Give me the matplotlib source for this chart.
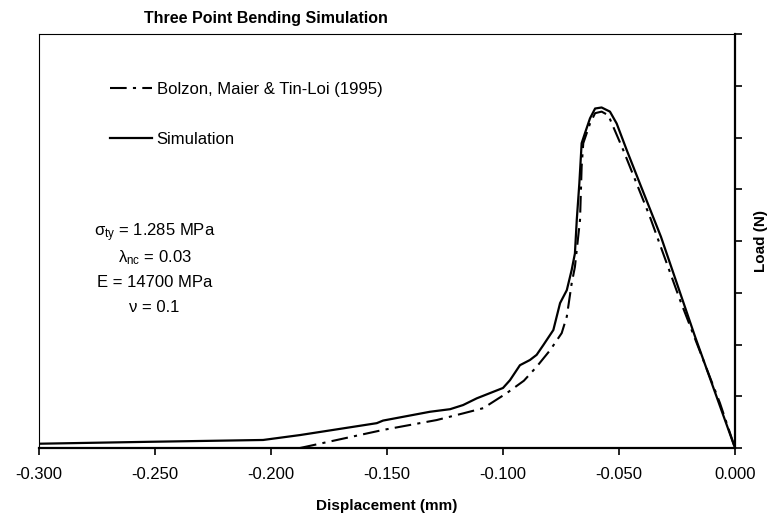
import matplotlib
matplotlib.use("Agg")
import matplotlib.pyplot as plt

plt.rcParams['font.family'] = ['Liberation Sans', 'DejaVu Sans']
plt.rcParams['mathtext.fontset'] = 'custom'
plt.rcParams['mathtext.rm'] = 'Liberation Sans'
plt.rcParams['mathtext.it'] = 'Liberation Sans'

# Bolzon, Maier & Tin-Loi (1995) reference curve
ref_disp = [-0.1875, -0.1516, -0.1286, -0.1171, -0.1085, -0.0984, -0.0910, -0.0855,
            -0.0797, -0.0747, -0.0725, -0.0704, -0.0690, -0.0668, -0.0661, -0.0654,
            -0.0625, -0.0603, -0.0575, -0.0546, -0.0525, -0.0482, -0.0424, -0.0367,
            -0.0237, -0.0065, 0.0]
ref_load = [0.0, 0.35, 0.54, 0.67, 0.77, 1.06, 1.30, 1.57,
            1.89, 2.22, 2.54, 3.18, 3.50, 4.41, 5.44, 5.89,
            6.27, 6.47, 6.50, 6.43, 6.21, 5.76, 5.11, 4.47,
            2.86, 0.87, 0.0]

# simulation curve
sim_disp = [-0.2996, -0.2522, -0.2034, -0.1875, -0.1544, -0.1517, -0.1315, -0.1228,
            -0.1172, -0.1113, -0.1000, -0.0970, -0.0927, -0.0884, -0.0855, -0.0826,
            -0.0783, -0.0754, -0.0725, -0.0704, -0.0690, -0.0682, -0.0671, -0.0661,
            -0.0647, -0.0625, -0.0603, -0.0575, -0.0539, -0.0510, -0.0467, -0.0410,
            -0.0319, -0.0172, 0.0]
sim_load = [0.083, 0.12, 0.155, 0.25, 0.48, 0.53, 0.70, 0.75,
            0.83, 0.96, 1.16, 1.31, 1.60, 1.70, 1.80, 1.99,
            2.28, 2.80, 3.05, 3.44, 3.76, 4.41, 5.11, 5.89,
            6.08, 6.37, 6.56, 6.58, 6.50, 6.27, 5.76, 5.11,
            4.08, 2.15, 0.0]

x_ticks = [-0.300, -0.250, -0.200, -0.150, -0.100, -0.050, 0.000]
y_ticks = [0, 1, 2, 3, 4, 5, 6, 7, 8]

params = [r'σ$_{\mathrm{ty}}$ = 1.285 MPa',
          r'λ$_{\mathrm{nc}}$ = 0.03',
          'E = 14700 MPa',
          'ν = 0.1']

fig = plt.figure(figsize=(7.68, 5.26), dpi=100)
ax = fig.add_axes([39 / 768, 1 - 448 / 526, 696 / 768, 414 / 526])

ax.plot(ref_disp, ref_load, color='black', lw=1.5,
        linestyle=(0, (8, 3, 1.5, 3)), label='Bolzon, Maier & Tin-Loi (1995)')
ax.plot(sim_disp, sim_load, color='black', lw=1.6, label='Simulation')

ax.set_xlim(-0.3, 0.0)
ax.set_ylim(0, 8)
ax.set_xticks(x_ticks)
ax.set_xticklabels([f'{v:.3f}' for v in x_ticks])
ax.yaxis.tick_right()
ax.yaxis.set_label_position('right')
ax.set_yticks(y_ticks)
ax.set_yticklabels([])

ax.spines['right'].set_linewidth(1.6)
ax.spines['bottom'].set_linewidth(1.6)
ax.spines['left'].set_linewidth(0.8)
ax.spines['top'].set_linewidth(0.8)
ax.tick_params(axis='x', direction='out', length=5, width=1.2, labelsize=12, pad=9)
ax.tick_params(axis='y', direction='out', length=5, width=1.2)

ax.set_xlabel('Displacement (mm)', fontsize=11, fontweight='bold', labelpad=12)
ax.set_ylabel('Load (N)', fontsize=11, fontweight='bold', labelpad=5)
fig.text(266 / 768, 1 - 18 / 526, 'Three Point Bending Simulation',
         fontsize=11.5, fontweight='bold', ha='center', va='center')

for i, s in enumerate(params):
    ax.text(0.166, 0.521 - i * 0.0605, s, transform=ax.transAxes,
            ha='center', va='center', fontsize=12)

ax.legend(loc='upper left', bbox_to_anchor=(0.102, 0.885), frameon=False,
          fontsize=12, handlelength=2.5, handletextpad=0.3,
          labelspacing=2.1, borderpad=0, borderaxespad=0)

fig.savefig('out.png', dpi=100)
